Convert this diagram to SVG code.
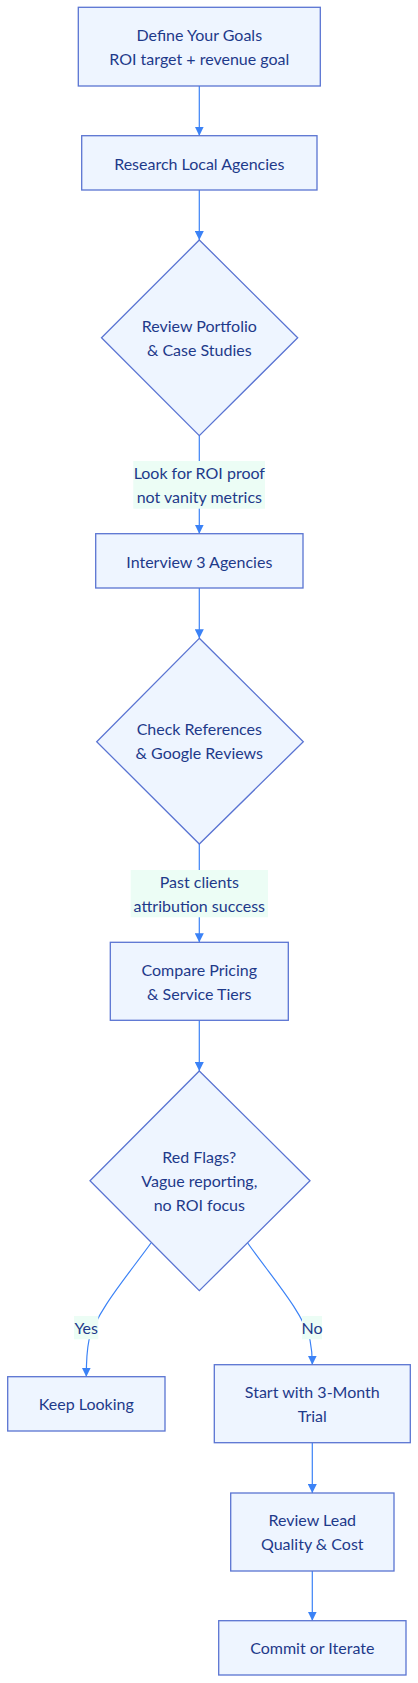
<svg xmlns="http://www.w3.org/2000/svg" width="418" height="1683" viewBox="0 0 418 1683">
<defs>
<marker id="arr" viewBox="0 0 10 10" refX="10" refY="5" markerWidth="9" markerHeight="9" markerUnits="userSpaceOnUse" orient="auto"><path d="M0,0 L10,5 L0,10 z" fill="#3b82f6"/></marker>
<style>
.n{fill:#eef5ff;stroke:#5a74d2;stroke-width:1.3}
.t{font-family:Lato,"Liberation Sans",sans-serif;font-size:16px;fill:#1e3a8a;text-anchor:middle;dominant-baseline:central}
.e{fill:none;stroke:#3b82f6;stroke-width:1.2;marker-end:url(#arr)}
.lb{fill:#ecfdf5}
</style>
</defs>
<rect width="418" height="1683" fill="#ffffff"/>
<g id="edges">
<path class="e" d="M199.3,86 L199.3,135.7"/>
<path class="e" d="M199.3,190 L199.3,240"/>
<path class="e" d="M199.3,435.7 L199.3,533.7"/>
<path class="e" d="M199.3,588 L199.3,638.3"/>
<path class="e" d="M199.3,844 L199.3,942.3"/>
<path class="e" d="M199.3,1020.3 L199.3,1071"/>
<path class="e" d="M151,1243 C128,1275 96,1312 89,1340 C86.5,1352 86.3,1362 86.3,1376.7"/>
<path class="e" d="M247.7,1243 C270,1275 303,1312 310,1340 C312,1350 312.3,1356 312.3,1364.7"/>
<path class="e" d="M312.3,1442.7 L312.3,1493"/>
<path class="e" d="M312.3,1571 L312.3,1620.7"/>
<rect class="lb" x="133.3" y="461" width="131.7" height="47.7"/>
<text class="t" x="199.3" y="472.3">Look for ROI proof</text>
<text class="t" x="199.3" y="496.3">not vanity metrics</text>
<rect class="lb" x="130.7" y="870" width="137.3" height="47.3"/>
<text class="t" x="199.3" y="881.3">Past clients</text>
<text class="t" x="199.3" y="905.3">attribution success</text>
<rect class="lb" x="74" y="1316" width="24.3" height="23.3"/>
<text class="t" x="86.2" y="1327.5">Yes</text>
<rect class="lb" x="302" y="1316" width="20" height="23.3"/>
<text class="t" x="312" y="1327.5">No</text>
</g>
<g id="define"><rect class="n" x="78.3" y="7.3" width="242" height="78.7"/>
<text class="t" x="199.3" y="34">Define Your Goals</text><text class="t" x="199.3" y="58">ROI target + revenue goal</text></g>
<g id="research"><rect class="n" x="81.7" y="135.7" width="235.3" height="54.3"/>
<text class="t" x="199.3" y="163">Research Local Agencies</text></g>
<g id="portfolio"><polygon class="n" points="199.3,240 297.7,337.7 199.3,435.7 101.5,337.7"/>
<text class="t" x="199.3" y="325.7">Review Portfolio</text><text class="t" x="199.3" y="349.3">&amp; Case Studies</text></g>
<g id="interview"><rect class="n" x="95.7" y="533.7" width="207.3" height="54.3"/>
<text class="t" x="199.3" y="561">Interview 3 Agencies</text></g>
<g id="references"><polygon class="n" points="199.3,638.3 303.3,741.7 199.3,844 96.7,741.7"/>
<text class="t" x="199.3" y="728.3">Check References</text><text class="t" x="199.3" y="752.3">&amp; Google Reviews</text></g>
<g id="pricing"><rect class="n" x="110.3" y="942.3" width="178" height="78"/>
<text class="t" x="199.3" y="969.7">Compare Pricing</text><text class="t" x="199.3" y="993.3">&amp; Service Tiers</text></g>
<g id="redflags"><polygon class="n" points="199.3,1071 310,1180.7 199.3,1290.7 90,1180.7"/>
<text class="t" x="199.3" y="1156.3">Red Flags?</text><text class="t" x="199.3" y="1180.3">Vague reporting,</text><text class="t" x="199.3" y="1204">no ROI focus</text></g>
<g id="keeplooking"><rect class="n" x="7.7" y="1376.7" width="157.3" height="54.3"/>
<text class="t" x="86.3" y="1403.5">Keep Looking</text></g>
<g id="trial"><rect class="n" x="214.3" y="1364.7" width="196" height="78"/>
<text class="t" x="312.3" y="1391.7">Start with 3-Month</text><text class="t" x="312.3" y="1415.3">Trial</text></g>
<g id="reviewlead"><rect class="n" x="230.7" y="1493" width="163.3" height="78"/>
<text class="t" x="312.3" y="1519">Review Lead</text><text class="t" x="312.3" y="1543">Quality &amp; Cost</text></g>
<g id="commit"><rect class="n" x="218.7" y="1620.7" width="187.3" height="54.3"/>
<text class="t" x="312.3" y="1647.5">Commit or Iterate</text></g>
</svg>
